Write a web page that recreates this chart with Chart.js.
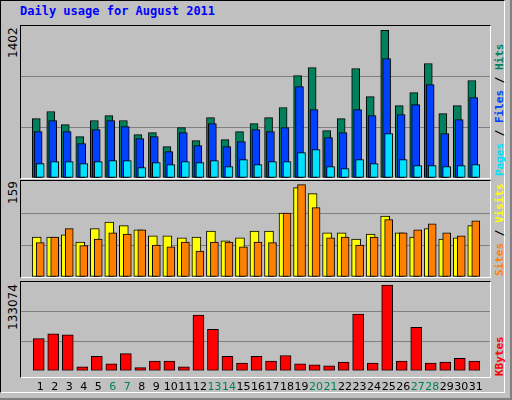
<!DOCTYPE html>
<html>
<head>
<meta charset="utf-8">
<script src="https://cdn.jsdelivr.net/npm/chart.js@4/dist/chart.umd.min.js"></script>
<style>
  body { margin: 0; }
  #frame { position: absolute; left: 0; top: 0; width: 510px; height: 398px; background: #c0c0c0; border-right: 2px solid #808080; border-bottom: 2px solid #808080; }
  #frame2 { position: absolute; left: 0; top: 0; width: 503px; height: 391px; border: 1px solid #000; border-right: 1px solid #fff; border-bottom: 1px solid #fff; }
  .title { position: absolute; left: 20px; top: 4px; font: bold 12px "DejaVu Sans Mono", monospace; color: #0000ff; }
  .panel { position: absolute; left: 20px; width: 469px; border-top: 1px solid #000; border-left: 1px solid #000; border-right: 1px solid #fff; border-bottom: 1px solid #fff; }
  .vl { position: absolute; transform-origin: left top; transform: rotate(-90deg); white-space: nowrap; }
  .left { font: 12px "DejaVu Sans", sans-serif; color: #000; }
  .right { font: bold 11px "DejaVu Sans Mono", monospace; }
</style>
</head>
<body>
<div id="frame"></div>
<div id="frame2"></div>
<div class="title">Daily usage for August 2011</div>

<div class="panel" style="top:25px;height:152px"></div>
<div class="panel" style="top:180px;height:96px"></div>
<div class="panel" style="top:281px;height:95px"></div>

<div style="position:absolute;left:21px;top:26px;width:469px;height:152px"><canvas id="c1"></canvas></div>
<div style="position:absolute;left:21px;top:181px;width:469px;height:96px"><canvas id="c2"></canvas></div>
<div style="position:absolute;left:21px;top:282px;width:469px;height:114px"><canvas id="c3"></canvas></div>

<div class="vl left" style="left:6px;top:58px">1402</div>
<div class="vl left" style="left:6px;top:204px">159</div>
<div class="vl left" style="left:6px;top:330px">133074</div>

<div class="vl right" style="left:493px;top:176px"><span style="color:#00e0ff">Pages</span> / <span style="color:#0040ff">Files</span> / <span style="color:#00805c">Hits</span></div>
<div class="vl right" style="left:493px;top:276px"><span style="color:#ff8000">Sites</span> / <span style="color:#ffff00">Visits</span></div>
<div class="vl right" style="left:493px;top:376px"><span style="color:#ff0000">KBytes</span></div>

<script>
// giorni del mese e weekend
var days = [];
for (var d = 1; d <= 31; d++) days.push(d);
var weekend = [6, 7, 13, 14, 20, 21, 27, 28];

// valori
var hits = [548, 613, 493, 382, 530, 576, 530, 400, 419, 290, 465, 345, 557, 354, 428, 502,
            557, 650, 945, 1019, 437, 548, 1010, 751, 1361, 668, 788, 1056, 594, 668, 899];
var files = [428, 530, 428, 317, 447, 530, 474, 363, 382, 243, 419, 299, 502, 290, 336, 447,
             428, 465, 844, 631, 373, 419, 631, 576, 1102, 585, 677, 862, 410, 539, 742];
var pages = [132, 151, 151, 132, 151, 160, 160, 95, 142, 123, 151, 142, 160, 105, 169, 123,
             151, 151, 234, 262, 105, 86, 169, 132, 410, 169, 114, 114, 105, 114, 123];
var visits = [66, 66, 70, 58, 80, 91, 85, 78, 68, 68, 65, 66, 76, 60, 65, 76,
              76, 106, 148, 138, 73, 73, 63, 71, 101, 73, 66, 80, 63, 65, 85];
var sites = [57, 66, 80, 52, 63, 73, 71, 78, 53, 50, 58, 43, 58, 58, 50, 58,
             57, 106, 153, 115, 65, 66, 53, 66, 95, 73, 78, 88, 73, 68, 93];
var kbytes = [48266, 55295, 53889, 6092, 21556, 10309, 25773, 4686, 14527, 14527, 6092, 83411, 62324, 21556, 11715, 21556,
              14527, 22961, 10309, 8903, 7498, 13121, 84817, 11715, 128396, 14527, 65136, 11715, 13121, 18744, 14527];

var max_hits = 1402;
var max_visits = 159;
var max_kbytes = 133074;
var label_shift = 0.27;

// costruisce i punti {x, y} con uno spostamento orizzontale
function punti(valori, spostamento) {
    var out = [];
    for (var i = 0; i < valori.length; i++) {
        out.push({ x: days[i] + spostamento, y: valori[i] });
    }
    return out;
}

function serie(valori, spostamento, colore, spessore, ordine) {
    return {
        data: punti(valori, spostamento),
        backgroundColor: colore,
        borderColor: '#000',
        borderWidth: 1,
        borderSkipped: false,
        barThickness: spessore,
        grouped: false,
        order: ordine
    };
}

function opzioni(massimo, mostraGiorni) {
    return {
        animation: false,
        responsive: true,
        maintainAspectRatio: false,
        layout: { padding: 0 },
        plugins: { legend: { display: false }, tooltip: { enabled: false } },
        scales: {
            x: {
                type: 'linear',
                min: 0.47,
                max: 31.73,
                display: mostraGiorni,
                grid: { display: false },
                border: { display: false },
                ticks: {
                    autoSkip: false,
                    maxRotation: 0,
                    padding: 2,
                    font: { family: 'DejaVu Sans', size: 11 },
                    color: function(c) {
                        return weekend.indexOf(Math.round(c.tick.value - label_shift)) >= 0 ? '#00805c' : '#000';
                    },
                    callback: function(v) { return Math.round(v - label_shift); }
                },
                afterBuildTicks: function(ax) {
                    ax.ticks = days.map(function(d) { return { value: d + label_shift }; });
                }
            },
            y: {
                min: 0,
                max: massimo,
                afterBuildTicks: function(ax) {
                    ax.ticks = [0, massimo / 3, massimo * 2 / 3, massimo].map(function(v) { return { value: v }; });
                },
                ticks: { display: false },
                grid: {
                    color: function(c) { return (c.index === 1 || c.index === 2) ? '#808080' : 'rgba(0,0,0,0)'; },
                    drawTicks: false,
                    lineWidth: 1
                },
                border: { display: false }
            }
        }
    };
}

new Chart(document.getElementById('c1'), {
    type: 'bar',
    data: {
        datasets: [
            serie(hits, 0, '#00805c', 8, 3),
            serie(files, 0.13, '#0040ff', 8, 2),
            serie(pages, 0.27, '#00e0ff', 8, 1)
        ]
    },
    options: opzioni(max_hits, false)
});

new Chart(document.getElementById('c2'), {
    type: 'bar',
    data: {
        datasets: [
            serie(visits, 0.03, '#ffff00', 9, 2),
            serie(sites, 0.27, '#ff8000', 8, 1)
        ]
    },
    options: opzioni(max_visits, false)
});

new Chart(document.getElementById('c3'), {
    type: 'bar',
    data: {
        datasets: [
            serie(kbytes, 0.17, '#ff0000', 11, 1)
        ]
    },
    options: opzioni(max_kbytes, true)
});
</script>
</body>
</html>
